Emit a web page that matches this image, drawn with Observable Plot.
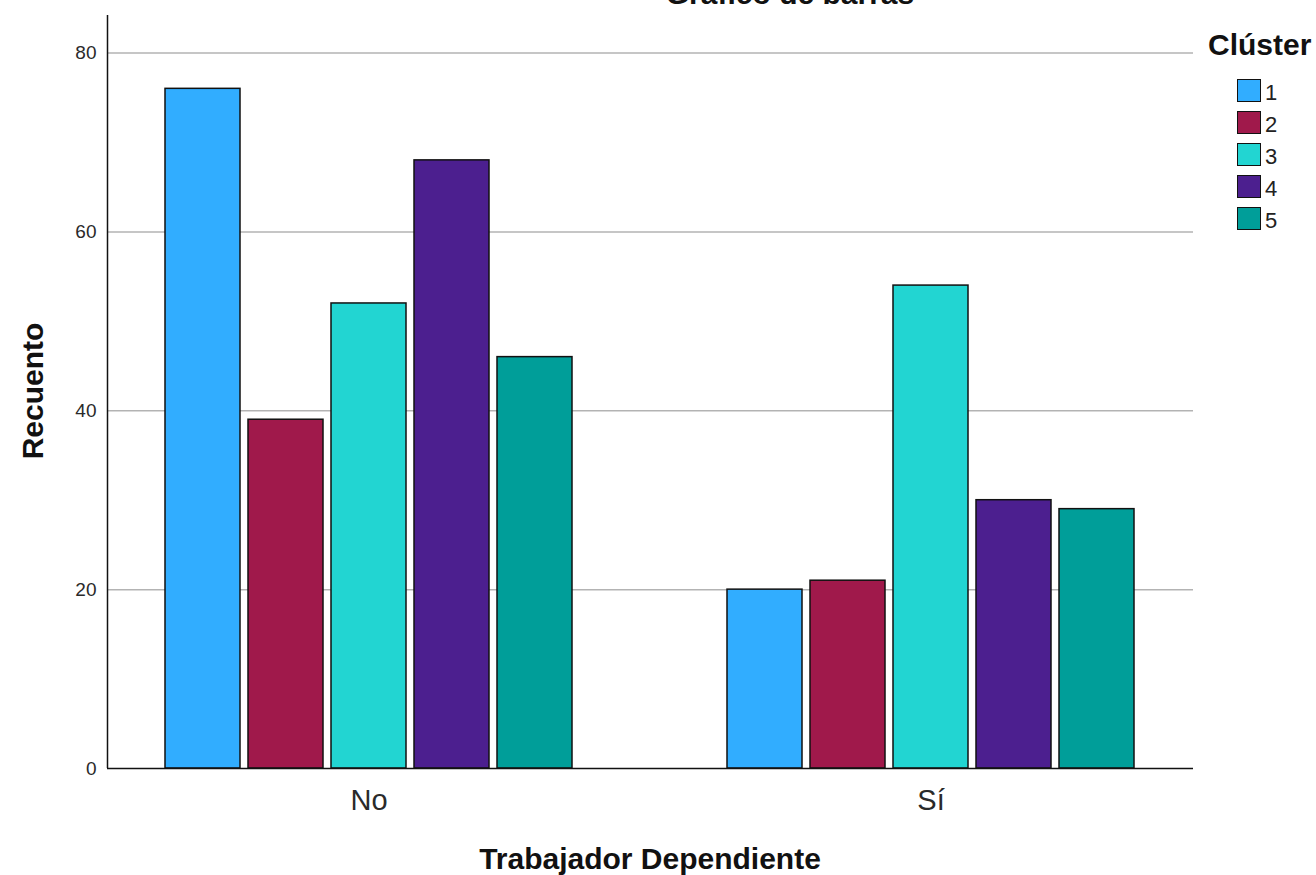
<!DOCTYPE html>
<html>
<head>
<meta charset="utf-8">
<script src="https://cdn.jsdelivr.net/npm/d3@7"></script>
<script src="https://cdn.jsdelivr.net/npm/@observablehq/plot@0.6"></script>
<style>
  html, body { margin: 0; padding: 0; background: #fff; }
  #wrap { position: relative; width: 1316px; height: 875px; overflow: hidden; font-family: "Liberation Sans", Arial, sans-serif; color: #111; }
  #wrap svg { position: absolute; left: 0; top: 0; }
  .abs { position: absolute; white-space: nowrap; }
</style>
</head>
<body>
<div id="wrap"></div>
<script>
// ---- data ----
const title = "Gráfico de barras";
const xTitle = "Trabajador Dependiente";
const yTitle = "Recuento";
const legendTitle = "Clúster";
const groups = ["No", "Sí"];
const clusters = ["1", "2", "3", "4", "5"];
const countsNo = [76, 39, 52, 68, 46];
const countsSi = [20, 21, 54, 30, 29];
const colors = ["#31adff", "#a0194b", "#22d5d2", "#4c1f8f", "#009e99"];
const yTicks = [0, 20, 40, 60, 80];

const rows = [];
clusters.forEach((c, i) => rows.push({group: "No", cluster: c, count: countsNo[i]}));
clusters.forEach((c, i) => rows.push({group: "Sí", cluster: c, count: countsSi[i]}));

const W = 1316, H = 875;
const dims = {width: W, height: H, marginLeft: 107, marginRight: 123, marginTop: 15, marginBottom: 107};
const yScale = {domain: [0, 84.2], axis: null};
const font = "'Liberation Sans', Arial, sans-serif";
const wrap = document.getElementById("wrap");

// background: grid, y tick labels, axis lines
const bg = Plot.plot({
  ...dims,
  style: {fontFamily: font, background: "transparent", overflow: "visible"},
  x: {domain: [0, 1], axis: null},
  y: yScale,
  marks: [
    Plot.ruleY(yTicks.filter(d => d > 0), {y: d => d, stroke: "#b3b3b3", strokeWidth: 1.5}),
    Plot.text(yTicks, {y: d => d, text: d => String(d), frameAnchor: "left", textAnchor: "end", dx: -11, fontSize: 19, fill: "#2a2a2a"}),
    Plot.ruleX([0], {x: d => d, stroke: "#111", strokeWidth: 1.5}),
  ]
});
wrap.appendChild(bg);

// foreground: bars
const fg = Plot.plot({
  ...dims,
  style: {fontFamily: font, background: "transparent", overflow: "visible"},
  fx: {domain: groups, paddingInner: 0.268, paddingOuter: 0.1, axis: null, label: null},
  x: {domain: clusters, paddingInner: 0.1, paddingOuter: 0, axis: null},
  y: yScale,
  color: {domain: clusters, range: colors},
  marks: [
    Plot.barY(rows, {fx: "group", x: "cluster", y: "count", fill: "cluster", stroke: "#111", strokeWidth: 1.5}),
    Plot.text(groups, {fx: d => d, text: d => d, frameAnchor: "bottom", dy: 41, fontSize: 29, fill: "#2a2a2a"})
  ]
});
wrap.appendChild(fg);

// full-width baseline at 0
const base = Plot.plot({
  ...dims,
  style: {fontFamily: font, background: "transparent", overflow: "visible"},
  y: yScale,
  marks: [Plot.ruleY([0], {y: d => d, stroke: "#111", strokeWidth: 1.5})]
});
wrap.appendChild(base);

// titles
function addText(txt, css) {
  const d = document.createElement("div");
  d.className = "abs";
  d.textContent = txt;
  Object.assign(d.style, css);
  wrap.appendChild(d);
  return d;
}
addText(title, {left: "790px", top: "-21px", transform: "translateX(-50%)", fontSize: "30px", fontWeight: "bold", lineHeight: "30px"});
addText(xTitle, {left: "650px", top: "844px", transform: "translateX(-50%)", fontSize: "30px", fontWeight: "bold", lineHeight: "30px"});
addText(yTitle, {left: "33px", top: "391px", transform: "translate(-50%,-50%) rotate(-90deg)", fontSize: "30px", fontWeight: "bold", lineHeight: "30px"});

// legend
addText(legendTitle, {left: "1208px", top: "30px", fontSize: "30px", fontWeight: "bold", lineHeight: "30px"});
clusters.forEach((c, i) => {
  const sw = document.createElement("div");
  sw.className = "abs";
  Object.assign(sw.style, {left: "1237px", top: (79 + i * 32) + "px", width: "22px", height: "21px", background: colors[i], border: "1.5px solid #111"});
  wrap.appendChild(sw);
  addText(c, {left: "1265px", top: (80 + i * 32) + "px", fontSize: "22px", lineHeight: "26px", color: "#222"});
});
</script>
</body>
</html>
